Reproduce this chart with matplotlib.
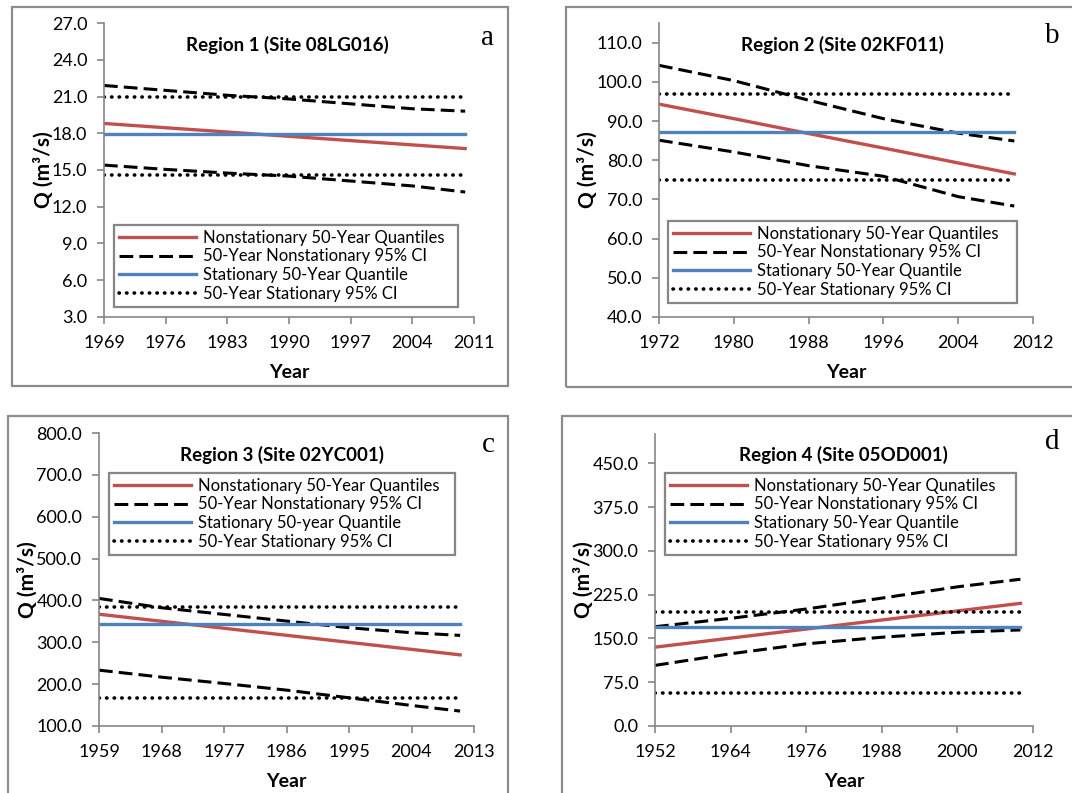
import numpy as np
import matplotlib
matplotlib.use("Agg")
import matplotlib.pyplot as plt
from matplotlib.patches import Rectangle
from matplotlib.ticker import FormatStrFormatter

plt.rcParams['font.family'] = ['Lato', 'DejaVu Sans']

W, H = 1072, 793

# Region 1 (Site 08LG016)
years_1 = [1969, 1976, 1983, 1990, 1997, 2004, 2010]
ns_q_1 = [18.8, 18.45, 18.1, 17.75, 17.4, 17.05, 16.75]
ns_up_1 = [21.9, 21.5, 21.1, 20.8, 20.4, 20.0, 19.8]
ns_lo_1 = [15.4, 15.05, 14.75, 14.5, 14.1, 13.7, 13.2]
st_q_1 = 17.9
st_ci_1 = (14.6, 21.0)

# Region 2 (Site 02KF011)
years_2 = [1972, 1980, 1988, 1996, 2004, 2010]
ns_q_2 = [94.3, 90.6, 86.8, 83.1, 79.3, 76.5]
ns_up_2 = [104.2, 100.3, 95.3, 90.6, 86.9, 84.9]
ns_lo_2 = [85.1, 82.1, 78.6, 75.9, 70.7, 68.3]
st_q_2 = 87.3
st_ci_2 = (75.0, 97.0)

# Region 3 (Site 02YC001)
years_3 = [1959, 1968, 1977, 1986, 1995, 2004, 2011]
ns_q_3 = [367.0, 350.2, 333.5, 316.7, 299.9, 283.1, 270.0]
ns_up_3 = [404.8, 382.5, 366.6, 350.7, 334.8, 322.8, 316.5]
ns_lo_3 = [233.4, 216.7, 201.6, 185.7, 167.4, 149.1, 135.6]
st_q_3 = 342.7
st_ci_3 = (166.8, 384.0)

# Region 4 (Site 05OD001)
years_4 = [1952, 1964, 1976, 1988, 2000, 2010]
ns_q_4 = [135.0, 150.5, 166.0, 181.5, 197.0, 210.0]
ns_up_4 = [170.0, 184.4, 200.3, 219.0, 238.3, 251.3]
ns_lo_4 = [103.8, 123.7, 140.7, 152.0, 160.5, 164.5]
st_q_4 = 170.2
st_ci_4 = (56.7, 195.7)

panels = [
    dict(years=years_1, q=ns_q_1, up=ns_up_1, lo=ns_lo_1, sq=st_q_1, sci=st_ci_1,
         title="Region 1 (Site 08LG016)", letter="a",
         xlim=(1969, 2011), xt=np.arange(1969, 2012, 7), ylim=(3, 27), yt=np.arange(3, 27.1, 3),
         box=(104, 23, 474, 317), frame=(12, 7, 508, 386), title_xy=(287, 45), letter_xy=(488, 38),
         leg=(114, 225, 458, 306), leg_labels=["Nonstationary 50-Year Quantiles", "50-Year Nonstationary 95% CI",
                                               "Stationary 50-Year Quantile", "50-Year Stationary 95% CI"]),
    dict(years=years_2, q=ns_q_2, up=ns_up_2, lo=ns_lo_2, sq=st_q_2, sci=st_ci_2,
         title="Region 2 (Site 02KF011)", letter="b",
         xlim=(1972, 2012), xt=np.arange(1972, 2013, 8), ylim=(40, 115), yt=np.arange(40, 110.1, 10),
         box=(659, 23, 1033, 317), frame=(566, 7, 1080, 387), title_xy=(842, 45), letter_xy=(1052, 36),
         leg=(668, 221, 1017, 304), leg_labels=["Nonstationary 50-Year Quantiles", "50-Year Nonstationary 95% CI",
                                                "Stationary 50-Year Quantile", "50-Year Stationary 95% CI"]),
    dict(years=years_3, q=ns_q_3, up=ns_up_3, lo=ns_lo_3, sq=st_q_3, sci=st_ci_3,
         title="Region 3 (Site 02YC001)", letter="c",
         xlim=(1959, 2013), xt=np.arange(1959, 2014, 9), ylim=(100, 800), yt=np.arange(100, 800.1, 100),
         box=(99, 433, 474, 726), frame=(8, 416, 508, 800), title_xy=(282, 455), letter_xy=(488, 445),
         leg=(109, 473, 455, 553), leg_labels=["Nonstationary 50-Year Quantiles", "50-Year Nonstationary 95% CI",
                                               "Stationary 50-year Quantile", "50-Year Stationary 95% CI"]),
    dict(years=years_4, q=ns_q_4, up=ns_up_4, lo=ns_lo_4, sq=st_q_4, sci=st_ci_4,
         title="Region 4 (Site 05OD001)", letter="d",
         xlim=(1952, 2012), xt=np.arange(1952, 2013, 12), ylim=(0, 500), yt=np.arange(0, 450.1, 75),
         box=(655, 434, 1033, 726), frame=(562, 416, 1080, 800), title_xy=(843, 455), letter_xy=(1052, 442),
         leg=(665, 473, 1016, 556), leg_labels=["Nonstationary 50-Year Qunatiles", "50-Year Nonstationary 95% CI",
                                                "Stationary 50-Year Quantile", "50-Year Stationary 95% CI"]),
]

red = "#C0504D"
blue = "#4F81BD"
gray = "#868686"
dash = (0, (4.5, 2.0))
dot = (0, (0.1, 2.0))

fig = plt.figure(figsize=(W / 100, H / 100), dpi=100)

for p in panels:
    fx0, fy0, fx1, fy1 = p["frame"]
    fig.patches.append(Rectangle((fx0 / W, 1 - fy1 / H), (fx1 - fx0) / W, (fy1 - fy0) / H,
                                 transform=fig.transFigure, fill=False, edgecolor="#8c8c8c", lw=1.6))

    x0, y0, x1, y1 = p["box"]
    ax = fig.add_axes([x0 / W, 1 - y1 / H, (x1 - x0) / W, (y1 - y0) / H])
    ax.set_facecolor("none")
    yrs = p["years"]
    ax.plot(yrs, p["q"], color=red, lw=2.4, label=p["leg_labels"][0])
    ax.plot(yrs, p["up"], color="black", lw=2.2, linestyle=dash, label=p["leg_labels"][1])
    ax.plot(yrs, p["lo"], color="black", lw=2.2, linestyle=dash)
    span = [yrs[0], yrs[-1]]
    ax.plot(span, [p["sq"]] * 2, color=blue, lw=2.4, label=p["leg_labels"][2])
    ax.plot(span, [p["sci"][1]] * 2, color="black", lw=2.6, linestyle=dot,
            dash_capstyle="round", label=p["leg_labels"][3])
    ax.plot(span, [p["sci"][0]] * 2, color="black", lw=2.6, linestyle=dot, dash_capstyle="round")

    ax.set_xlim(*p["xlim"])
    ax.set_ylim(*p["ylim"])
    ax.set_xticks(p["xt"])
    ax.set_yticks(p["yt"])
    ax.yaxis.set_major_formatter(FormatStrFormatter("%.1f"))
    for s in ["top", "right"]:
        ax.spines[s].set_visible(False)
    for s in ["left", "bottom"]:
        ax.spines[s].set_color(gray)
        ax.spines[s].set_linewidth(1.2)
    ax.tick_params(axis="both", colors=gray, labelcolor="black", labelsize=13, length=5, width=1.2)
    ax.tick_params(axis="x", pad=8)
    ax.tick_params(axis="y", pad=7)
    ax.set_xlabel("Year", fontsize=14, fontweight="bold", labelpad=9)
    ax.set_ylabel("Q (m³/s)", fontsize=15, fontweight="bold", labelpad=-1)

    fig.text(p["title_xy"][0] / W, 1 - p["title_xy"][1] / H, p["title"], ha="center", va="center",
             fontsize=13.5, fontweight="bold")
    fig.text(p["letter_xy"][0] / W, 1 - p["letter_xy"][1] / H, p["letter"], ha="center", va="center",
             fontsize=21, family="Liberation Serif")

    lx0, ly0, lx1, ly1 = p["leg"]
    leg = ax.legend(loc="upper left", bbox_to_anchor=(lx0 / W, 1 - ly1 / H, (lx1 - lx0) / W, (ly1 - ly0) / H),
                    bbox_transform=fig.transFigure, mode="expand", borderaxespad=0, fontsize=12,
                    handlelength=4.6, handletextpad=0.45, labelspacing=0.15, borderpad=0.3,
                    fancybox=False, framealpha=1)
    leg.get_frame().set_edgecolor(gray)
    leg.get_frame().set_linewidth(1.6)

fig.savefig("out.png", dpi=100)
